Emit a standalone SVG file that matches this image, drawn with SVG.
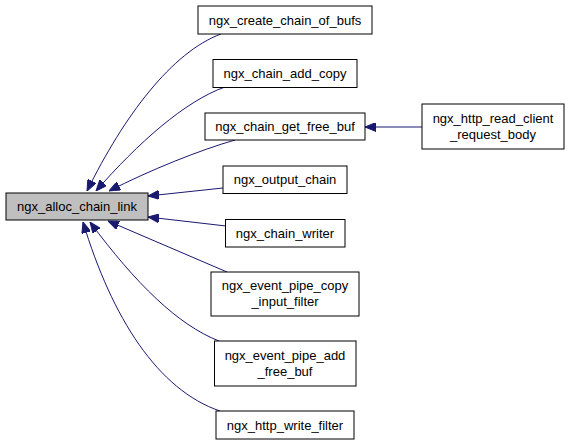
<svg xmlns="http://www.w3.org/2000/svg" width="571" height="445" viewBox="0 0 571 445">
<style>
.n rect{fill:#ffffff;stroke:#000000;stroke-width:1}
.n.main rect{fill:#bfbfbf}
.n text{font-family:"Liberation Sans",Arial,sans-serif;font-size:13px;text-anchor:middle;fill:#000000}
.e path{fill:none;stroke:#191970;stroke-width:1}
</style>
<defs>
<marker id="ah" viewBox="0 0 11 9" refX="11" refY="4.5" markerWidth="11" markerHeight="9" markerUnits="userSpaceOnUse" orient="auto">
<path d="M0,0 L11,4.5 L0,9 Z" fill="#191970" stroke="#191970"/>
</marker>
</defs>
<rect width="571" height="445" fill="#ffffff"/>
<g id="edges" class="e">
<path d="M221,34 C172,52 124,116 87,191" marker-end="url(#ah)"/>
<path d="M225,87 C185,101 138,143 96,191" marker-end="url(#ah)"/>
<path d="M235,140 C200,150 150,170 109,191" marker-end="url(#ah)"/>
<path d="M223,188 L148,196" marker-end="url(#ah)"/>
<path d="M226,226 L148,217" marker-end="url(#ah)"/>
<path d="M227,272 L108,221" marker-end="url(#ah)"/>
<path d="M219,341 C178,325 136,284 90,222" marker-end="url(#ah)"/>
<path d="M220,411 C158,390 112,318 83,222" marker-end="url(#ah)"/>
<path d="M422,127 L365,127" marker-end="url(#ah)"/>
</g>
<g id="ngx_alloc_chain_link" class="n main"><rect x="6" y="193" width="142" height="27"/><text x="77" y="211">ngx_alloc_chain_link</text></g>
<g id="ngx_create_chain_of_bufs" class="n"><rect x="198" y="6" width="174" height="28"/><text x="285" y="24.5">ngx_create_chain_of_bufs</text></g>
<g id="ngx_chain_add_copy" class="n"><rect x="213" y="59.5" width="144" height="28"/><text x="285" y="78">ngx_chain_add_copy</text></g>
<g id="ngx_chain_get_free_buf" class="n"><rect x="205" y="113" width="160" height="27"/><text x="285" y="131">ngx_chain_get_free_buf</text></g>
<g id="ngx_output_chain" class="n"><rect x="223" y="166" width="124" height="27.5"/><text x="285" y="184">ngx_output_chain</text></g>
<g id="ngx_chain_writer" class="n"><rect x="225.5" y="219.5" width="119.5" height="27.5"/><text x="285" y="237.5">ngx_chain_writer</text></g>
<g id="ngx_event_pipe_copy_input_filter" class="n"><rect x="211" y="272" width="148" height="44"/><text x="285" y="290">ngx_event_pipe_copy</text><text x="285" y="306">_input_filter</text></g>
<g id="ngx_event_pipe_add_free_buf" class="n"><rect x="214.5" y="341" width="141.5" height="45"/><text x="285" y="359.5">ngx_event_pipe_add</text><text x="285" y="375.5">_free_buf</text></g>
<g id="ngx_http_write_filter" class="n"><rect x="216" y="411" width="138" height="28"/><text x="285" y="429.5">ngx_http_write_filter</text></g>
<g id="ngx_http_read_client_request_body" class="n"><rect x="422" y="104" width="142" height="45"/><text x="493" y="122.5">ngx_http_read_client</text><text x="493" y="138.5">_request_body</text></g>
</svg>
